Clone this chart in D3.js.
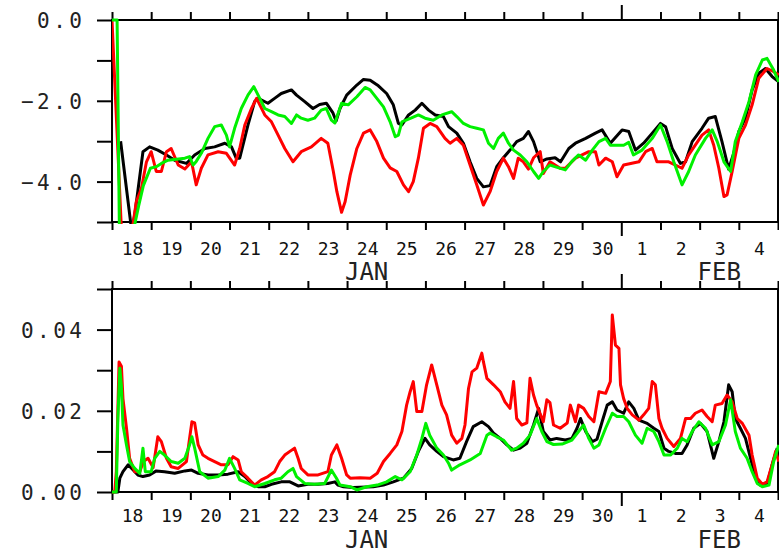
<!DOCTYPE html>
<html><head><meta charset="utf-8">
<script src="https://cdn.jsdelivr.net/npm/d3@7"></script>
<style>body{margin:0;background:#fff}svg{display:block}</style>
</head><body><svg id="c" width="779" height="553"></svg>
<script>
// ---- data ----
const dayLabels = ["18","19","20","21","22","23","24","25","26","27","28","29","30","1","2","3","4"];
const monthLabels = ["JAN","FEB"];
const monthCenterDays = [6.5, 15.5];
const monthBoundaryDays = [13];
const topTickValues = [0,-1,-2,-3,-4,-5];
const topTickLabels = {"0":"0.0","-2":"\u22122.0","-4":"\u22124.0"};
const botTickValues = [0,0.01,0.02,0.03,0.04,0.05];
const botTickLabels = {"0":"0.00","0.02":"0.02","0.04":"0.04"};

// top panel series: [day since 18 Jan 00Z, value]
const topBlack = [[0.22,-3.0],[0.5,-5.2],[0.58,-4.83],[0.79,-3.26],[0.96,-3.14],[1.17,-3.22],[1.39,-3.34],[1.6,-3.47],[1.9,-3.55],[2.11,-3.34],[2.37,-3.18],[2.62,-3.14],[2.88,-3.05],[3.05,-3.14],[3.17,-3.42],[3.26,-3.42],[3.47,-2.6],[3.64,-2.02],[3.73,-1.94],[3.98,-2.06],[4.15,-1.94],[4.32,-1.82],[4.58,-1.73],[4.71,-1.86],[4.92,-2.02],[5.13,-2.19],[5.3,-2.09],[5.47,-2.06],[5.64,-2.3],[5.72,-2.5],[5.82,-2.19],[5.99,-1.86],[6.25,-1.61],[6.42,-1.47],[6.59,-1.49],[6.8,-1.63],[7.01,-1.82],[7.18,-2.1],[7.31,-2.56],[7.4,-2.6],[7.57,-2.35],[7.74,-2.23],[7.91,-2.06],[8.08,-2.23],[8.25,-2.35],[8.46,-2.39],[8.59,-2.64],[8.8,-2.8],[8.97,-3.05],[9.14,-3.51],[9.31,-3.92],[9.48,-4.13],[9.65,-4.1],[9.82,-3.63],[9.99,-3.41],[10.16,-3.22],[10.33,-3.01],[10.5,-2.93],[10.63,-2.76],[10.76,-3.01],[10.93,-3.51],[11.1,-3.44],[11.31,-3.41],[11.45,-3.51],[11.66,-3.18],[11.83,-3.05],[12.09,-2.93],[12.34,-2.8],[12.51,-2.72],[12.72,-3.05],[13.02,-2.72],[13.19,-2.76],[13.36,-3.22],[13.57,-3.05],[13.79,-2.8],[14.0,-2.56],[14.13,-2.64],[14.3,-3.18],[14.51,-3.55],[14.64,-3.51],[14.81,-3.01],[15.06,-2.68],[15.23,-2.43],[15.4,-2.39],[15.57,-3.01],[15.74,-3.69],[15.87,-3.3],[16.0,-2.76],[16.17,-2.43],[16.34,-1.73],[16.51,-1.32],[16.68,-1.2],[16.85,-1.4],[17.02,-1.53]];
const topRed = [[0,0],[0.25,-5.4],[0.5,-5.3],[0.62,-4.5],[0.75,-4.17],[0.88,-3.51],[1.0,-3.26],[1.13,-3.75],[1.26,-3.75],[1.39,-3.26],[1.51,-3.18],[1.69,-3.59],[1.86,-3.69],[2.03,-3.51],[2.15,-4.08],[2.28,-3.67],[2.45,-3.34],[2.71,-3.26],[2.92,-3.3],[3.13,-3.59],[3.26,-3.18],[3.39,-2.6],[3.56,-2.19],[3.69,-1.94],[3.9,-2.35],[4.07,-2.52],[4.24,-2.85],[4.41,-3.18],[4.62,-3.51],[4.83,-3.26],[5.09,-3.14],[5.34,-2.93],[5.51,-3.05],[5.65,-3.75],[5.74,-4.25],[5.86,-4.76],[5.95,-4.5],[6.08,-3.84],[6.25,-3.18],[6.42,-2.8],[6.59,-2.72],[6.76,-3.01],[6.93,-3.42],[7.1,-3.66],[7.27,-3.75],[7.44,-4.08],[7.57,-4.25],[7.69,-4.0],[7.82,-3.42],[7.95,-2.68],[8.12,-2.56],[8.29,-2.64],[8.5,-2.93],[8.63,-3.05],[8.8,-2.93],[8.97,-3.1],[9.14,-3.59],[9.31,-4.08],[9.48,-4.58],[9.65,-4.25],[9.82,-3.75],[9.99,-3.42],[10.12,-3.63],[10.25,-3.92],[10.37,-3.42],[10.5,-3.51],[10.63,-3.69],[10.76,-3.41],[10.93,-3.26],[11.01,-3.8],[11.18,-3.51],[11.44,-3.67],[11.57,-3.67],[11.83,-3.42],[12.17,-3.26],[12.34,-3.26],[12.43,-3.59],[12.6,-3.42],[12.77,-3.51],[12.89,-3.88],[13.06,-3.59],[13.45,-3.51],[13.62,-3.26],[13.79,-3.18],[13.91,-3.51],[14.21,-3.51],[14.55,-3.67],[14.72,-3.34],[15.06,-2.85],[15.23,-2.72],[15.36,-3.1],[15.49,-3.67],[15.62,-4.37],[15.7,-4.33],[15.83,-3.75],[16.0,-2.93],[16.17,-2.6],[16.34,-2.1],[16.51,-1.44],[16.72,-1.2],[16.89,-1.28],[17.02,-1.36]];
const topGreen = [[0,0],[0.13,0],[0.19,-5.3],[0.55,-5.2],[0.68,-4.6],[0.8,-4.1],[0.98,-3.67],[1.13,-3.63],[1.26,-3.55],[1.43,-3.47],[1.86,-3.42],[1.98,-3.38],[2.07,-3.59],[2.15,-3.5],[2.28,-3.3],[2.45,-2.93],[2.62,-2.64],[2.79,-2.6],[2.92,-2.85],[3.0,-3.14],[3.13,-2.68],[3.3,-2.19],[3.47,-1.86],[3.62,-1.65],[3.73,-1.86],[3.9,-2.19],[4.07,-2.27],[4.24,-2.35],[4.41,-2.39],[4.58,-2.56],[4.71,-2.35],[4.83,-2.43],[5.0,-2.48],[5.17,-2.43],[5.34,-2.23],[5.47,-2.19],[5.6,-2.48],[5.69,-2.55],[5.86,-2.06],[6.03,-2.1],[6.25,-1.9],[6.46,-1.67],[6.59,-1.73],[6.76,-1.94],[6.93,-2.15],[7.1,-2.52],[7.23,-2.89],[7.31,-2.85],[7.4,-2.52],[7.63,-2.43],[7.82,-2.35],[7.99,-2.43],[8.2,-2.48],[8.42,-2.35],[8.67,-2.27],[8.8,-2.39],[8.97,-2.56],[9.14,-2.64],[9.31,-2.68],[9.48,-2.72],[9.61,-3.05],[9.74,-3.18],[9.86,-2.93],[9.99,-2.8],[10.12,-3.05],[10.25,-3.22],[10.42,-3.34],[10.59,-3.51],[10.76,-3.75],[10.89,-3.92],[11.01,-3.75],[11.18,-3.59],[11.3,-3.63],[11.57,-3.71],[11.74,-3.5],[11.91,-3.34],[12.09,-3.47],[12.26,-3.22],[12.43,-3.01],[12.6,-2.93],[12.72,-3.1],[13.06,-3.1],[13.19,-3.03],[13.31,-3.34],[13.53,-3.22],[13.79,-2.93],[14.0,-2.6],[14.17,-3.01],[14.34,-3.51],[14.55,-4.08],[14.72,-3.75],[14.89,-3.34],[15.15,-2.93],[15.32,-2.72],[15.45,-3.01],[15.62,-3.51],[15.79,-3.75],[15.91,-3.01],[16.09,-2.52],[16.26,-2.02],[16.43,-1.36],[16.6,-0.99],[16.72,-0.95],[16.89,-1.24],[17.02,-1.53]];

// bottom panel series
const botBlack = [[0,0],[0.15,0],[0.2,0.0034],[0.28,0.005],[0.41,0.0067],[0.54,0.0054],[0.66,0.0042],[0.79,0.0038],[0.96,0.0042],[1.13,0.0052],[1.34,0.005],[1.6,0.0046],[1.86,0.0052],[2.03,0.0054],[2.2,0.0046],[2.45,0.0042],[2.71,0.0042],[2.96,0.0044],[3.22,0.005],[3.39,0.0038],[3.56,0.0021],[3.73,0.0013],[3.9,0.0013],[4.07,0.0019],[4.32,0.0025],[4.54,0.0025],[4.75,0.0015],[5.0,0.0019],[5.26,0.0019],[5.51,0.0021],[5.69,0.0025],[5.77,0.0017],[5.91,0.0013],[6.16,0.0011],[6.67,0.0013],[6.93,0.0017],[7.18,0.0025],[7.44,0.0034],[7.65,0.0058],[7.82,0.01],[7.99,0.0132],[8.11,0.0116],[8.29,0.01],[8.46,0.0087],[8.71,0.0079],[8.88,0.0083],[9.05,0.0124],[9.22,0.0161],[9.44,0.0173],[9.61,0.0161],[9.74,0.0145],[9.91,0.0132],[10.08,0.0116],[10.25,0.0103],[10.42,0.0108],[10.59,0.012],[10.76,0.0165],[10.89,0.0206],[11.01,0.0149],[11.18,0.0128],[11.35,0.0132],[11.57,0.0128],[11.74,0.0132],[11.87,0.0157],[11.96,0.0181],[12.09,0.0149],[12.26,0.0124],[12.38,0.013],[12.51,0.0173],[12.64,0.0214],[12.77,0.0222],[12.89,0.0202],[13.06,0.0194],[13.19,0.0222],[13.32,0.0206],[13.45,0.0177],[13.66,0.0169],[13.83,0.0157],[13.96,0.0149],[14.09,0.0108],[14.21,0.01],[14.38,0.0095],[14.55,0.0095],[14.68,0.0116],[14.85,0.0157],[15.02,0.0169],[15.19,0.0149],[15.36,0.0083],[15.49,0.0124],[15.62,0.0173],[15.74,0.0264],[15.83,0.0247],[15.91,0.0181],[16.04,0.0157],[16.17,0.0132],[16.3,0.0083],[16.43,0.0034],[16.55,0.0017],[16.72,0.0018],[16.85,0.0067],[16.98,0.0108]];
const botRed = [[0,0],[0.07,0],[0.11,0.005],[0.18,0.032],[0.24,0.031],[0.28,0.023],[0.37,0.0157],[0.45,0.0083],[0.58,0.005],[0.71,0.005],[0.8,0.0075],[0.92,0.0083],[1.05,0.006],[1.17,0.0136],[1.26,0.0124],[1.39,0.0083],[1.51,0.0062],[1.69,0.0058],[1.9,0.0075],[1.98,0.0132],[2.04,0.0173],[2.11,0.017],[2.2,0.0116],[2.32,0.0091],[2.45,0.0083],[2.62,0.0075],[2.79,0.0067],[2.96,0.0067],[3.09,0.0087],[3.22,0.0079],[3.3,0.005],[3.47,0.0034],[3.64,0.0017],[3.81,0.003],[3.98,0.0038],[4.15,0.005],[4.28,0.0075],[4.41,0.0091],[4.54,0.01],[4.66,0.0108],[4.75,0.0083],[4.83,0.0058],[5.0,0.0042],[5.26,0.0042],[5.51,0.005],[5.6,0.0091],[5.74,0.0116],[5.86,0.0083],[5.99,0.0042],[6.08,0.0034],[6.33,0.0035],[6.59,0.0034],[6.77,0.0046],[6.93,0.0075],[7.1,0.0095],[7.27,0.0116],[7.4,0.0149],[7.52,0.0214],[7.61,0.0247],[7.69,0.0272],[7.78,0.0198],[7.91,0.0198],[8.03,0.0264],[8.16,0.0313],[8.29,0.0264],[8.42,0.0214],[8.54,0.019],[8.67,0.014],[8.8,0.012],[8.93,0.0132],[9.01,0.0165],[9.1,0.0255],[9.19,0.0296],[9.31,0.0305],[9.44,0.0342],[9.48,0.0321],[9.57,0.028],[9.74,0.0264],[9.91,0.0247],[10.03,0.0222],[10.16,0.0206],[10.25,0.0272],[10.33,0.0181],[10.46,0.0165],[10.59,0.017],[10.67,0.028],[10.76,0.0239],[10.84,0.0214],[11.01,0.0173],[11.1,0.0227],[11.18,0.022],[11.27,0.0165],[11.44,0.0157],[11.62,0.017],[11.7,0.0214],[11.83,0.0173],[11.91,0.0214],[12.04,0.0206],[12.17,0.0186],[12.3,0.0173],[12.43,0.0247],[12.6,0.0243],[12.72,0.0272],[12.77,0.0436],[12.85,0.0362],[12.94,0.0354],[12.98,0.0264],[13.06,0.023],[13.15,0.0206],[13.28,0.019],[13.45,0.0177],[13.57,0.019],[13.7,0.0206],[13.79,0.0272],[13.87,0.0264],[13.96,0.0181],[14.04,0.0157],[14.17,0.0132],[14.34,0.0112],[14.51,0.0132],[14.64,0.0181],[14.77,0.0181],[14.89,0.0194],[15.06,0.0202],[15.19,0.0186],[15.32,0.0173],[15.4,0.0214],[15.57,0.0218],[15.7,0.0239],[15.83,0.0222],[15.96,0.0181],[16.09,0.0169],[16.26,0.014],[16.34,0.0091],[16.47,0.0034],[16.6,0.0019],[16.72,0.0025],[16.85,0.0067],[16.94,0.01],[17.02,0.0075]];
const botGreen = [[0,0],[0.11,0],[0.15,0.018],[0.2,0.0305],[0.24,0.026],[0.28,0.0165],[0.37,0.0116],[0.45,0.0075],[0.58,0.0058],[0.71,0.0046],[0.79,0.0108],[0.85,0.005],[1.0,0.005],[1.09,0.0083],[1.22,0.01],[1.34,0.0091],[1.51,0.0075],[1.69,0.0071],[1.86,0.0083],[1.98,0.0116],[2.04,0.0136],[2.11,0.0108],[2.24,0.005],[2.45,0.0034],[2.71,0.0038],[2.88,0.0054],[3.0,0.0083],[3.13,0.0058],[3.26,0.003],[3.47,0.0021],[3.64,0.0013],[3.9,0.0021],[4.15,0.003],[4.32,0.0034],[4.49,0.005],[4.62,0.0058],[4.71,0.0038],[4.92,0.0021],[5.17,0.0019],[5.43,0.0021],[5.6,0.0054],[5.73,0.0034],[5.82,0.0017],[6.08,0.0013],[6.25,0.0005],[6.5,0.0013],[6.77,0.0017],[7.01,0.0025],[7.23,0.0038],[7.4,0.003],[7.61,0.005],[7.78,0.0091],[7.91,0.0132],[8.01,0.0169],[8.11,0.014],[8.29,0.0108],[8.46,0.0091],[8.59,0.0071],[8.67,0.0054],[8.88,0.0067],[9.14,0.0079],[9.4,0.0095],[9.57,0.014],[9.65,0.0145],[9.82,0.0136],[9.99,0.0128],[10.2,0.0103],[10.33,0.0108],[10.5,0.012],[10.67,0.014],[10.84,0.0181],[10.97,0.0149],[11.1,0.0124],[11.27,0.0117],[11.49,0.0118],[11.74,0.0128],[11.91,0.0149],[12.04,0.0165],[12.17,0.0132],[12.3,0.0108],[12.43,0.0116],[12.6,0.0157],[12.77,0.0194],[12.89,0.0186],[13.06,0.0186],[13.19,0.0173],[13.36,0.014],[13.53,0.012],[13.66,0.0157],[13.83,0.0149],[13.96,0.0124],[14.09,0.0091],[14.26,0.0091],[14.43,0.0108],[14.55,0.0132],[14.68,0.0124],[14.81,0.0149],[14.98,0.0173],[15.15,0.0157],[15.32,0.0116],[15.49,0.0124],[15.66,0.0165],[15.79,0.0227],[15.91,0.0149],[16.04,0.0108],[16.21,0.0083],[16.34,0.005],[16.47,0.0021],[16.6,0.0013],[16.77,0.0017],[16.89,0.0075],[17.02,0.0116]];

// ---- drawing ----
const svg = d3.select("#c");
const FONT = "'DejaVu Sans Mono', monospace";
const x = d3.scaleLinear().domain([0, 17]).range([112, 778]);

const panels = [
  {id:"p1", top:20, bottom:222, domain:[-5,0], ticks:topTickValues, labels:topTickLabels,
   series:[[topBlack,"#000000"],[topRed,"#ff0000"],[topGreen,"#00f000"]], dayY:254.5, monthY:280},
  {id:"p2", top:289, bottom:492, domain:[0,0.05], ticks:botTickValues, labels:botTickLabels,
   series:[[botBlack,"#000000"],[botRed,"#ff0000"],[botGreen,"#00f000"]], dayY:521.5, monthY:548}
];

panels.forEach(p => {
  const y = d3.scaleLinear().domain(p.domain).range([p.bottom, p.top]);
  const g = svg.append("g");

  g.append("clipPath").attr("id", "clip-" + p.id)
    .append("rect").attr("x", x(0)).attr("y", p.top - 2)
    .attr("width", x(17) - x(0) + 2).attr("height", p.bottom - p.top + 4);

  // frame
  g.append("rect").attr("x", x(0)).attr("y", p.top)
    .attr("width", x(17) - x(0)).attr("height", p.bottom - p.top)
    .attr("fill", "none").attr("stroke", "#000").attr("stroke-width", 2);

  // y axis
  const ya = d3.axisLeft(y).tickValues(p.ticks).tickSize(15).tickPadding(11.5)
    .tickFormat(d => { const k = String(+d.toFixed(3)); return p.labels[k] || ""; });
  const yg = g.append("g").attr("transform", `translate(${x(0)},0)`).call(ya);
  yg.select(".domain").remove();
  yg.selectAll(".tick line").attr("stroke", "#000").attr("stroke-width", 2);
  yg.selectAll(".tick text").attr("font-family", FONT).attr("font-size", 21)
    .attr("letter-spacing", 3.5).attr("fill", "#222").attr("dy", "0.36em");

  // x axes (top & bottom)
  const days = d3.range(0, 18);
  const xb = d3.axisBottom(x).tickValues(days).tickSize(8).tickFormat("");
  const xt = d3.axisTop(x).tickValues(days).tickSize(8).tickFormat("");
  const gb = g.append("g").attr("transform", `translate(0,${p.bottom})`).call(xb);
  const gt = g.append("g").attr("transform", `translate(0,${p.top})`).call(xt);
  [gb, gt].forEach(a => {
    a.select(".domain").remove();
    a.selectAll(".tick line").attr("stroke", "#000").attr("stroke-width", 2);
  });
  gb.selectAll(".tick line").filter(d => monthBoundaryDays.includes(d)).attr("y2", 14);
  gt.selectAll(".tick line").filter(d => monthBoundaryDays.includes(d)).attr("y2", -15);

  // day labels
  g.selectAll(".daylab").data(dayLabels).join("text")
    .attr("x", (d, i) => x(i + 0.5) + 1).attr("y", p.dayY)
    .attr("text-anchor", "middle").attr("font-family", FONT).attr("font-size", 18)
    .attr("fill", "#111").text(d => d);

  // month labels
  g.selectAll(".monlab").data(monthLabels).join("text")
    .attr("x", (d, i) => x(monthCenterDays[i])).attr("y", p.monthY)
    .attr("text-anchor", "middle").attr("font-family", FONT).attr("font-size", 24)
    .attr("fill", "#222").text(d => d);

  // lines
  const line = d3.line().x(d => x(d[0])).y(d => y(d[1]));
  const lg = g.append("g").attr("clip-path", `url(#clip-${p.id})`);
  p.series.forEach(([data, col]) => {
    lg.append("path").datum(data).attr("d", line)
      .attr("fill", "none").attr("stroke", col).attr("stroke-width", 3)
      .attr("stroke-linejoin", "round").attr("stroke-linecap", "butt");
  });
});
</script>
</body></html>
